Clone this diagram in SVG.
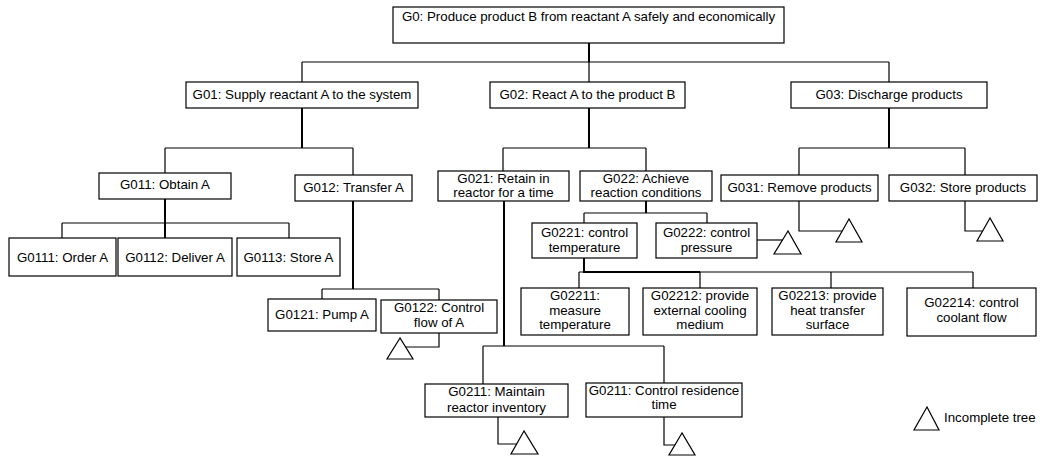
<svg xmlns="http://www.w3.org/2000/svg" width="1041" height="457" viewBox="0 0 1041 457">
<style>
.b{fill:#fff;stroke:#000;stroke-width:1.2}
.t{font-family:"Liberation Sans",Arial,sans-serif;font-size:13.3px;fill:#000;text-anchor:middle}
.l{fill:none;stroke:#000;stroke-width:1.2}
.k{fill:none;stroke:#000;stroke-width:2}
.tri{fill:#fff;stroke:#000;stroke-width:1.2}
</style>
<rect width="1041" height="457" fill="#fff"/>
<g id="connectors">
<path class="k" d="M589,43V62"/>
<path class="l" d="M302,62H889M302,62V82M589,62V82M889,62V82"/>
<path class="k" d="M302,108V148M589,108V148M889,108V148"/>
<path class="l" d="M165,148H353M165,148V173M353,148V175"/>
<path class="l" d="M503,148H646M503,148V171M646,148V171"/>
<path class="l" d="M799,148H965M799,148V175M965,148V175"/>
<path class="k" d="M165,199V238"/>
<path class="l" d="M62,223H289M62,223V238M289,223V238"/>
<path class="k" d="M353,201V289"/>
<path class="l" d="M322,289H439M322,289V299M439,289V300"/>
<path class="l" d="M439,333V347H406"/>
<path class="k" d="M504,201V346"/>
<path class="l" d="M483,346H664M483,346V384M664,346V383"/>
<path class="l" d="M498,417V444H517"/>
<path class="l" d="M664,417V445H676"/>
<path class="k" d="M646,201V213"/>
<path class="l" d="M584,213H707M584,213V223M707,213V223"/>
<path class="l" d="M757,240H783"/>
<path class="l" d="M799,201V231H842"/>
<path class="l" d="M965,201V231H983"/>
<path class="k" d="M584,258V272H700"/>
<path class="l" d="M579,272H973M579,272V288M700,272V288M831,272V288M973,272V288"/>
<polygon class="tri" points="400,338 387,359 413,359"/>
<polygon class="tri" points="524,431 511,454 538,454"/>
<polygon class="tri" points="682,433 669,455 695,455"/>
<polygon class="tri" points="788,231 774,254 801,254"/>
<polygon class="tri" points="849,219 836,242 862,242"/>
<polygon class="tri" points="990,218 977,241 1003,241"/>
</g>
<g id="G0"><rect class="b" x="393" y="7" width="391" height="36"/><text class="t" x="588.5" y="21">G0: Produce product B from reactant A safely and economically</text></g>
<g id="G01"><rect class="b" x="186" y="82" width="232" height="26"/><text class="t" x="302" y="99">G01: Supply reactant A to the system</text></g>
<g id="G02"><rect class="b" x="490" y="82" width="195" height="26"/><text class="t" x="587.5" y="99">G02: React A to the product B</text></g>
<g id="G03"><rect class="b" x="791" y="82" width="196" height="26"/><text class="t" x="889" y="99">G03: Discharge products</text></g>
<g id="G011"><rect class="b" x="99" y="173" width="132" height="26"/><text class="t" x="165" y="189">G011: Obtain A</text></g>
<g id="G012"><rect class="b" x="295" y="175" width="117" height="26"/><text class="t" x="353.5" y="192">G012: Transfer A</text></g>
<g id="G021"><rect class="b" x="438" y="171" width="131" height="30"/><text class="t" x="503.5" y="183">G021: Retain in</text><text class="t" x="503.5" y="197">reactor for a time</text></g>
<g id="G022"><rect class="b" x="580" y="171" width="132" height="30"/><text class="t" x="646" y="183">G022: Achieve</text><text class="t" x="646" y="197">reaction conditions</text></g>
<g id="G031"><rect class="b" x="721" y="175" width="157" height="26"/><text class="t" x="799.5" y="192">G031: Remove products</text></g>
<g id="G032"><rect class="b" x="889" y="175" width="148" height="26"/><text class="t" x="963" y="192">G032: Store products</text></g>
<g id="G0111"><rect class="b" x="9" y="238" width="107" height="38"/><text class="t" x="62.5" y="262">G0111: Order A</text></g>
<g id="G0112"><rect class="b" x="118" y="238" width="114" height="38"/><text class="t" x="175" y="262">G0112: Deliver A</text></g>
<g id="G0113"><rect class="b" x="237" y="238" width="103" height="38"/><text class="t" x="288.5" y="262">G0113: Store A</text></g>
<g id="G0121"><rect class="b" x="268" y="299" width="108" height="32"/><text class="t" x="322" y="319">G0121: Pump A</text></g>
<g id="G0122"><rect class="b" x="381" y="300" width="116" height="33"/><text class="t" x="439" y="312">G0122: Control</text><text class="t" x="439" y="327">flow of A</text></g>
<g id="G0221"><rect class="b" x="532" y="223" width="105" height="35"/><text class="t" x="584.5" y="237">G0221: control</text><text class="t" x="584.5" y="252">temperature</text></g>
<g id="G0222"><rect class="b" x="656" y="223" width="101" height="35"/><text class="t" x="706.5" y="237">G0222: control</text><text class="t" x="706.5" y="252">pressure</text></g>
<g id="G02211"><rect class="b" x="521" y="288" width="108" height="47"/><text class="t" x="575" y="300">G02211:</text><text class="t" x="575" y="315">measure</text><text class="t" x="575" y="329">temperature</text></g>
<g id="G02212"><rect class="b" x="643" y="288" width="114" height="47"/><text class="t" x="700" y="300">G02212: provide</text><text class="t" x="700" y="315">external cooling</text><text class="t" x="700" y="329">medium</text></g>
<g id="G02213"><rect class="b" x="772" y="288" width="111" height="47"/><text class="t" x="827.5" y="300">G02213: provide</text><text class="t" x="827.5" y="315">heat transfer</text><text class="t" x="827.5" y="329">surface</text></g>
<g id="G02214"><rect class="b" x="907" y="288" width="129" height="48"/><text class="t" x="971.5" y="307">G02214: control</text><text class="t" x="971.5" y="322">coolant flow</text></g>
<g id="G0211a"><rect class="b" x="425" y="384" width="143" height="33"/><text class="t" x="496.5" y="396">G0211: Maintain</text><text class="t" x="496.5" y="412">reactor inventory</text></g>
<g id="G0211b"><rect class="b" x="586" y="383" width="156" height="34"/><text class="t" x="664" y="395">G0211: Control residence</text><text class="t" x="664" y="409">time</text></g>
<g id="legend"><polygon class="tri" points="927,407 914,430 939,430"/><text class="t" x="944" y="422" style="text-anchor:start">Incomplete tree</text></g>
</svg>
